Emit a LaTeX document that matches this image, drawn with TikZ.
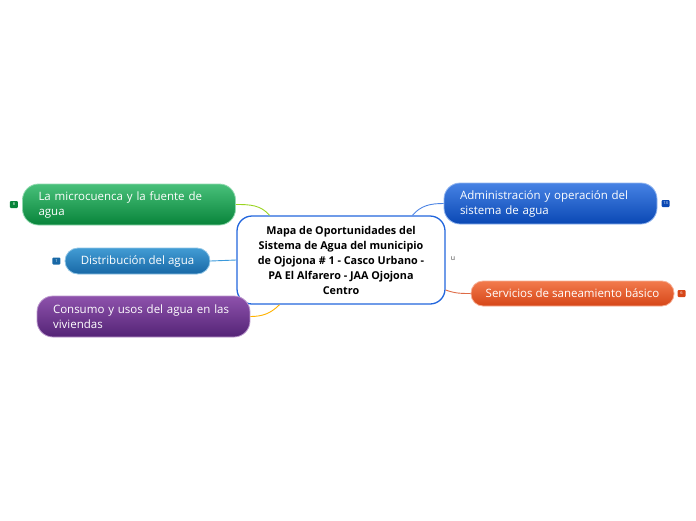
\documentclass[tikz,border=0pt]{standalone}
\usepackage{fontspec}
\setmainfont{Open Sans}
\usetikzlibrary{positioning}
\definecolor{core}{RGB}{34,102,221}
\definecolor{microtop}{RGB}{72,192,122}
\definecolor{microbot}{RGB}{8,132,58}
\definecolor{distop}{RGB}{66,156,212}
\definecolor{disbot}{RGB}{24,104,166}
\definecolor{constop}{RGB}{142,82,172}
\definecolor{consbot}{RGB}{84,36,118}
\definecolor{admtop}{RGB}{70,130,228}
\definecolor{admbot}{RGB}{10,72,180}
\definecolor{sertop}{RGB}{242,122,76}
\definecolor{serbot}{RGB}{214,70,24}

\tikzset{
  topic/.style={rounded corners=16pt, minimum height=41pt, text=white,
    font=\fontsize{11.5}{15}\selectfont, align=left, text width=181pt,
    inner xsep=16pt, line width=0.8pt},
  subtopic/.style={rounded corners=12pt, minimum height=25pt, text=white,
    font=\fontsize{11.5}{15}\selectfont, align=center, line width=0.8pt},
  badge/.style={rounded corners=1pt, minimum width=8pt, minimum height=7pt,
    inner sep=0pt, text=white, font=\fontsize{4}{4}\selectfont},
  link/.style={line width=0.9pt}
}

\begin{document}
\begin{tikzpicture}[x=1pt, y=-1pt]
  \useasboundingbox (0,0) rectangle (696,520);

  % central idea
  \node[draw=core, line width=1.3pt, rounded corners=15pt, fill=white,
        minimum width=208pt, minimum height=88pt, align=center,
        font=\fontsize{10.8}{15}\selectfont\bfseries] (core) at (341,260)
    {Mapa de Oportunidades del\\Sistema de Agua del municipio\\
     de Ojojona \# 1 - Casco Urbano -\\PA El Alfarero - JAA Ojojona\\Centro};
  \node[font=\fontsize{7}{7}\selectfont, text=black!70] (note) at (453,259) {u};

  % left side
  \node[topic, draw=microtop!60, top color=microtop, bottom color=microbot]
    (micro) at (129,204.5) {La microcuenca y la fuente de\\agua};
  \node[subtopic, draw=distop!60, top color=distop, bottom color=disbot,
        minimum width=145pt, minimum height=26pt, rounded corners=13pt]
    (dist) at (137.5,261) {Distribución del agua};
  \node[topic, draw=constop!60, top color=constop, bottom color=consbot]
    (cons) at (143.5,316.5) {Consumo y usos del agua en las\\viviendas};

  % right side
  \node[topic, draw=admtop!60, top color=admtop, bottom color=admbot]
    (adm) at (550.5,203.5) {Administración y operación del\\sistema de agua};
  \node[subtopic, draw=sertop!60, top color=sertop, bottom color=serbot,
        minimum width=203pt]
    (serv) at (572.5,293.5) {Servicios de saneamiento básico};

  % counters
  \node[badge, fill=microbot, left=4pt of micro] (bmicro) {8};
  \node[badge, fill=disbot, left=4pt of dist] (bdist) {1};
  \node[badge, fill=admbot, right=4pt of adm] (badm) {13};
  \node[badge, fill=serbot, right=3pt of serv] (bserv) {6};

  % links
  \draw[link, draw=yellow!60!green] (micro.east) to[out=0, in=130] (core.148);
  \draw[link, draw=cyan!70!blue!80] (dist.east) -- (core.west);
  \draw[link, draw=orange!60!yellow] (cons.east) to[out=0, in=225] (core.216);
  \draw[link, draw=core!80] (core.32) to[out=50, in=180] (adm.west);
  \draw[link, draw=serbot!80] (core.-16) to[out=-20, in=180] (serv.west);
\end{tikzpicture}
\end{document}
